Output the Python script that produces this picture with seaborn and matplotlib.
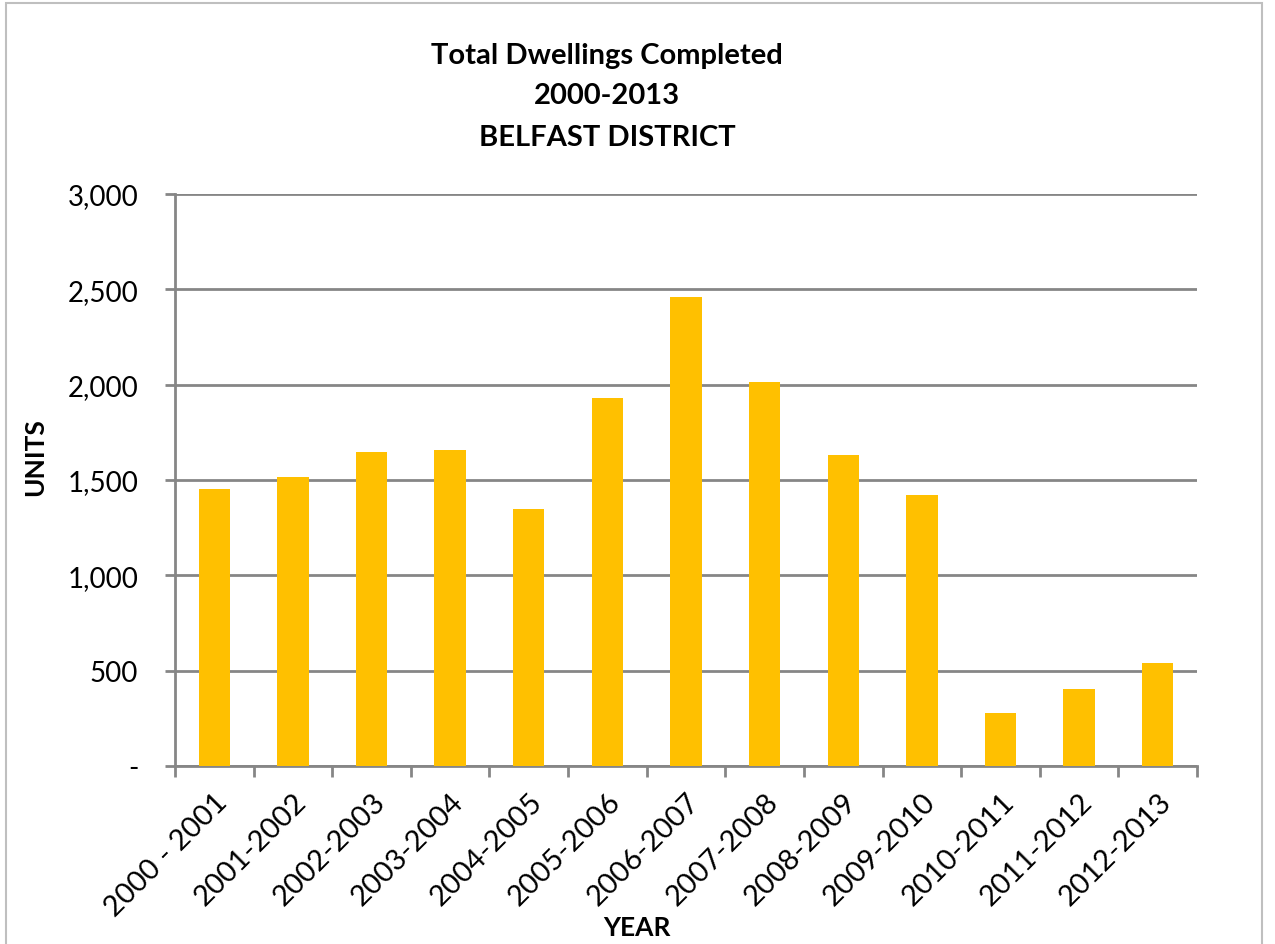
import matplotlib
matplotlib.use("Agg")
import matplotlib.pyplot as plt
from matplotlib.patches import Rectangle
from matplotlib.ticker import FixedLocator, FuncFormatter
import seaborn as sns
import pandas as pd

# Dwellings completed per financial year, Belfast district
years = ["2000 - 2001", "2001-2002", "2002-2003", "2003-2004", "2004-2005",
         "2005-2006", "2006-2007", "2007-2008", "2008-2009", "2009-2010",
         "2010-2011", "2011-2012", "2012-2013"]
units = [1453, 1516, 1649, 1659, 1350, 1930, 2458, 2012, 1633, 1421, 280, 406, 540]
y_ticks = [0, 500, 1000, 1500, 2000, 2500, 3000]

df = pd.DataFrame({"year": years, "units": units})

sns.set_theme(style="white")
plt.rcParams["font.family"] = ["Lato", "DejaVu Sans"]
plt.rcParams["text.color"] = "black"
plt.rcParams["xtick.color"] = "black"
plt.rcParams["ytick.color"] = "black"

GRID = "#868686"
BAR = "#FFC000"

fig = plt.figure(figsize=(12.75, 9.45), dpi=100)
ax = fig.add_axes([175 / 1275, 1 - 767 / 945, (1197 - 175) / 1275, (767 - 195) / 945])

sns.barplot(data=df, x="year", y="units", color=BAR, width=0.4,
            saturation=1, ax=ax, zorder=3)
for p in ax.patches:
    p.set_edgecolor("none")

ax.set_xlim(-0.5, len(years) - 0.5)
ax.set_ylim(0, 3000)

# horizontal gridlines
ax.yaxis.set_major_locator(FixedLocator(y_ticks))
ax.yaxis.set_major_formatter(FuncFormatter(lambda v, _: "-" if v == 0 else f"{int(v):,}"))
ax.grid(axis="y", color=GRID, linewidth=2, zorder=0)
ax.grid(axis="x", visible=False)

for side in ("top", "right"):
    ax.spines[side].set_visible(False)
for side in ("left", "bottom"):
    ax.spines[side].set_color(GRID)
    ax.spines[side].set_linewidth(2)

ax.tick_params(axis="y", which="major", direction="out", length=7.5, width=2,
               color=GRID, labelsize=20, labelcolor="black", pad=19, left=True)

# category ticks sit on the boundaries between bars
ax.set_xticks(range(len(years)))
ax.set_xticklabels(years, rotation=45, ha="right", rotation_mode="anchor", fontsize=21)
ax.set_xticks([i - 0.5 for i in range(len(years) + 1)], minor=True)
ax.tick_params(axis="x", which="major", length=0, pad=16, labelcolor="black")
ax.tick_params(axis="x", which="minor", direction="out", length=8, width=2,
               color=GRID, bottom=True)

ax.set_xlabel("")
ax.set_ylabel("")
fig.text(35.5 / 1275, 1 - 457 / 945, "UNITS", rotation=90, ha="center", va="center",
         fontsize=19, fontweight="bold")
fig.text(637 / 1275, 1 - 928 / 945, "YEAR", ha="center", va="center",
         fontsize=19, fontweight="bold")

fig.text(607 / 1275, 1 - 56 / 945, "Total Dwellings Completed", ha="center", va="center",
         fontsize=21, fontweight="bold")
fig.text(607 / 1275, 1 - 96 / 945, "2000-2013", ha="center", va="center",
         fontsize=21, fontweight="bold")
fig.text(607 / 1275, 1 - 138 / 945, "BELFAST DISTRICT", ha="center", va="center",
         fontsize=21, fontweight="bold")

# chart frame
fig.patches.append(Rectangle((6 / 1275, -0.02), (1262 - 6) / 1275, 1.02 - 4 / 945,
                             transform=fig.transFigure, fill=False,
                             edgecolor="#BFBFBF", linewidth=1.5))

fig.savefig("out.png", dpi=100)
